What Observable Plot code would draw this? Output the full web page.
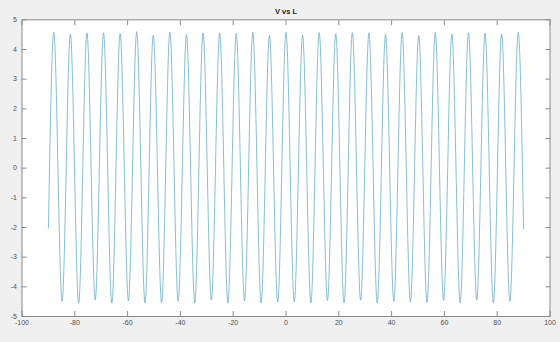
<!DOCTYPE html>
<html>
<head>
<meta charset="utf-8">
<script src="https://cdn.jsdelivr.net/npm/d3@7"></script>
<script src="https://cdn.jsdelivr.net/npm/@observablehq/plot@0.6"></script>
<style>
  html, body { margin: 0; padding: 0; background: #f0f0f0; }
  #chart { width: 560px; height: 342px; }
  svg { display: block; }
</style>
</head>
<body>
<div id="chart"></div>
<script>
const title = "V vs L";
const xTicks = [-100, -80, -60, -40, -20, 0, 20, 40, 60, 80, 100];
const yTicks = [-5, -4, -3, -2, -1, 0, 1, 2, 3, 4, 5];

// L positions of start, alternating peaks/troughs, and end
const L = [
  -90, -87.96, -84.82, -81.68, -78.54, -75.40, -72.26, -69.12, -65.97, -62.83,
  -59.69, -56.55, -53.41, -50.27, -47.12, -43.98, -40.84, -37.70, -34.56, -31.42,
  -28.27, -25.13, -21.99, -18.85, -15.71, -12.57, -9.42, -6.28, -3.14, 0,
  3.14, 6.28, 9.42, 12.57, 15.71, 18.85, 21.99, 25.13, 28.27, 31.42,
  34.56, 37.70, 40.84, 43.98, 47.12, 50.27, 53.41, 56.55, 59.69, 62.83,
  65.97, 69.12, 72.26, 75.40, 78.54, 81.68, 84.82, 87.96, 90
];
const V = [
  -2.02, 4.58, -4.49, 4.52, -4.55, 4.56, -4.44, 4.56, -4.55, 4.54,
  -4.47, 4.60, -4.54, 4.48, -4.53, 4.58, -4.49, 4.50, -4.54, 4.56,
  -4.45, 4.55, -4.55, 4.54, -4.47, 4.58, -4.54, 4.48, -4.51, 4.58,
  -4.51, 4.48, -4.54, 4.57, -4.46, 4.53, -4.54, 4.56, -4.45, 4.56,
  -4.54, 4.51, -4.49, 4.57, -4.51, 4.47, -4.53, 4.57, -4.46, 4.52,
  -4.55, 4.56, -4.45, 4.55, -4.54, 4.52, -4.49, 4.58, -2.05
];

const data = L.map((l, i) => ({L: l, V: V[i]}));

const font = "'Liberation Sans', Arial, sans-serif";
const axisColor = "#8a8a8a";
const labelColor = "#505050";

const chart = Plot.plot({
  width: 560,
  height: 342,
  marginLeft: 21.5,
  marginRight: 10.5,
  marginTop: 19.3,
  marginBottom: 26,
  style: {background: "#f0f0f0", fontFamily: font, fontSize: "7px", color: labelColor},
  x: {domain: [-100, 100], ticks: xTicks},
  y: {domain: [-5, 5], ticks: yTicks},
  marks: [
    Plot.frame({fill: "white", stroke: "none"}),
    Plot.line(data, {x: "L", y: "V", curve: "monotone-x", stroke: "#62a8c6", strokeWidth: 0.75}),
    Plot.axisX({anchor: "bottom", ticks: xTicks, tickSize: 0, tickPadding: 4, label: null, tickFormat: d => String(d), fill: labelColor}),
    Plot.axisX({anchor: "bottom", ticks: xTicks, tickSize: -5, text: null, label: null, stroke: axisColor}),
    Plot.axisX({anchor: "top", ticks: xTicks, tickSize: -5, text: null, label: null, stroke: axisColor}),
    Plot.axisY({anchor: "left", ticks: yTicks, tickSize: 0, tickPadding: 5, label: null, tickFormat: d => String(d), fill: labelColor}),
    Plot.axisY({anchor: "left", ticks: yTicks, tickSize: -5, text: null, label: null, stroke: axisColor}),
    Plot.axisY({anchor: "right", ticks: yTicks, tickSize: -5, text: null, label: null, stroke: axisColor}),
    Plot.frame({stroke: axisColor, strokeWidth: 1}),
    Plot.text([title], {frameAnchor: "top", dy: -6, text: d => d, fontWeight: "bold", fontSize: 7.5, fill: "#222", lineAnchor: "bottom"})
  ]
});
document.getElementById("chart").appendChild(chart);
</script>
</body>
</html>
